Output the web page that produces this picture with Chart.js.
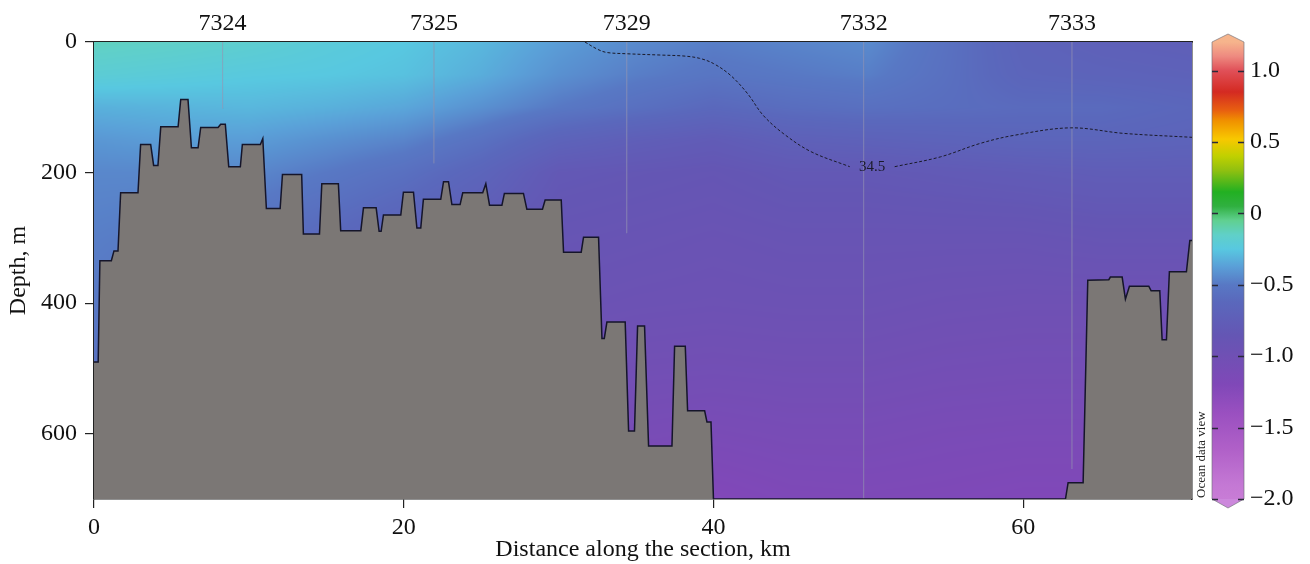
<!DOCTYPE html>
<html><head><meta charset="utf-8">
<script src="https://cdn.jsdelivr.net/npm/chart.js@4/dist/chart.umd.min.js"></script>
<style>html,body{margin:0;padding:0;background:#fff;}#wrap{width:1310px;height:564px;position:relative;}</style>
</head><body><div id="wrap"><canvas id="c" width="1310" height="564"></canvas></div>
<script>
// ---------- data ----------
const xMax = 70.9;
const depthMax = 700;
const xTicks = [0, 20, 40, 60];
const yTicks = [0, 200, 400, 600];
const xTitle = 'Distance along the section, km';
const yTitle = 'Depth, m';

const stationNames = ['7324', '7325', '7329', '7332', '7333'];
const stationKm = [8.3, 21.95, 34.4, 49.7, 63.15];
const stationBottom = [102, 186, 293, 700, 654];

const bathyKm = [0, 0.27, 0.38, 1.12, 1.29, 1.55, 1.72, 2.84, 3.01, 3.66, 3.85, 4.13, 4.31, 5.43, 5.6, 6.07, 6.29, 6.72, 6.89, 8.01,
  8.18, 8.48, 8.70, 9.45, 9.58, 10.74, 10.9, 11.13, 12.02, 12.17, 13.41, 13.52, 14.56, 14.71, 15.78, 15.93, 17.23, 17.4, 18.22, 18.41,
  18.54, 18.69, 19.81, 19.98, 20.63, 20.85, 21.1, 21.27, 22.39, 22.57, 22.89, 23.11, 23.64, 23.81, 25.1, 25.3, 25.54, 26.34, 26.5, 27.73,
  27.95, 28.96, 29.13, 30.17, 30.32, 31.46, 31.61, 32.58, 32.8, 32.95, 33.12, 34.3, 34.52, 34.9, 35.1, 35.55, 35.81, 37.32, 37.49, 38.18,
  38.33, 39.43, 39.58, 39.84, 40.0, 62.73, 62.9, 63.87, 64.17, 65.53, 65.63, 66.39, 66.6, 66.86, 68.11, 68.26, 68.82, 68.97, 69.25, 69.44,
  70.54, 70.76, 70.9];
const bathyDepth = [490, 490, 335, 335, 320, 320, 231, 231, 157, 157, 189, 189, 130, 130, 88, 88, 162, 162, 131, 131,
  126, 126, 191, 191, 157, 157, 148, 255, 255, 203, 203, 294, 294, 217, 217, 289, 289, 254, 254, 290,
  290, 265, 265, 230, 230, 285, 285, 241, 241, 214, 214, 249, 249, 231, 231, 217, 250, 250, 232, 232,
  256, 256, 242, 242, 322, 322, 299, 299, 454, 454, 429, 429, 596, 596, 435, 435, 619, 619, 466, 466,
  565, 565, 582, 582, 700, 700, 675, 675, 365, 364, 360, 360, 394, 374, 374, 381, 381, 456, 456, 352,
  352, 304, 304];

// salinity 34.5 isoline (null = gap for the label)
const contourKm = [31.7, 32.5, 33.1, 34.4, 36.6, 38.1, 39.1, 40.0, 41.1, 42.2, 43.2, 44.5, 46.3, 48.8, null, 51.7, 54.65, 57.2, 59.4, 63.05, 66.5, 70.9];
const contourDepth = [0, 11, 16, 18, 20, 21.5, 25, 33, 51, 79, 112, 140, 168, 191, null, 191, 176, 155.5, 143, 131.5, 140, 146];
const contourLabel = '34.5';
const contourLabelKm = 50.25;
const contourLabelDepth = 192;

// temperature field (°C), rows by depth
const fieldKm = [0, 5, 10, 15, 20, 25, 30, 35, 40, 45, 50, 55, 60, 65, 71];
const fieldDepth = [0, 50, 100, 150, 200, 300, 400, 500, 600, 700];
const t0   = [-0.13, -0.15, -0.18, -0.22, -0.25, -0.30, -0.38, -0.44, -0.48, -0.46, -0.44, -0.55, -0.68, -0.72, -0.74];
const t50  = [-0.20, -0.22, -0.24, -0.25, -0.27, -0.33, -0.42, -0.48, -0.52, -0.50, -0.48, -0.56, -0.66, -0.68, -0.70];
const t100 = [-0.32, -0.31, -0.30, -0.32, -0.35, -0.42, -0.50, -0.56, -0.62, -0.58, -0.56, -0.58, -0.60, -0.60, -0.64];
const t150 = [-0.40, -0.38, -0.38, -0.42, -0.46, -0.55, -0.68, -0.74, -0.78, -0.72, -0.70, -0.68, -0.66, -0.66, -0.68];
const t200 = [-0.45, -0.45, -0.45, -0.50, -0.56, -0.66, -0.82, -0.84, -0.86, -0.82, -0.82, -0.80, -0.78, -0.76, -0.76];
const t300 = [-0.48, -0.50, -0.55, -0.62, -0.70, -0.80, -0.88, -0.90, -0.92, -0.90, -0.90, -0.90, -0.90, -0.88, -0.88];
const t400 = [-0.50, -0.55, -0.62, -0.70, -0.78, -0.88, -0.93, -0.95, -0.96, -0.95, -0.95, -0.97, -0.98, -0.98, -0.98];
const t500 = [-0.55, -0.60, -0.70, -0.80, -0.88, -0.95, -1.00, -1.02, -1.03, -1.02, -1.02, -1.04, -1.05, -1.05, -1.05];
const t600 = [-0.60, -0.70, -0.80, -0.90, -0.98, -1.05, -1.08, -1.10, -1.12, -1.10, -1.10, -1.12, -1.13, -1.13, -1.13];
const t700 = [-0.65, -0.75, -0.85, -0.95, -1.05, -1.12, -1.16, -1.20, -1.22, -1.18, -1.17, -1.18, -1.20, -1.20, -1.20];
const fieldRows = [t0, t50, t100, t150, t200, t300, t400, t500, t600, t700];

// colour scale
const cbMin = -2.0, cbMax = 1.2;
const cbTicks = [-2.0, -1.5, -1.0, -0.5, 0, 0.5, 1.0];
const cmapValues = [-2.0, -1.9, -1.65, -1.4, -1.2, -1.0, -0.85, -0.62, -0.5, -0.37, -0.25, -0.15, -0.05, 0.05, 0.15, 0.3, 0.4, 0.52, 0.65, 0.72, 0.85, 1.0, 1.1, 1.2];
const cmapColors = ['#c87cd6', '#c478d4', '#b060c8', '#9a50c0', '#8048b8', '#7050b4', '#6456b4', '#5a68bc', '#5878c4', '#5aa0d8', '#58c8e0', '#60d0c8', '#60d090', '#30b040', '#22b022', '#90c010', '#c0d000', '#f8c800', '#f09000', '#e86010', '#d42a22', '#e05058', '#ee8a80', '#f6b48c'];

// ---------- helpers ----------
const SERIF = "'Liberation Serif', 'DejaVu Serif', serif";
const hex = h => [parseInt(h.slice(1,3),16), parseInt(h.slice(3,5),16), parseInt(h.slice(5,7),16)];
const cmapRgb = cmapColors.map(hex);
function colorFor(v) {
  if (v <= cmapValues[0]) return cmapRgb[0];
  const n = cmapValues.length;
  if (v >= cmapValues[n-1]) return cmapRgb[n-1];
  let i = 0; while (v > cmapValues[i+1]) i++;
  const t = (v - cmapValues[i]) / (cmapValues[i+1] - cmapValues[i]);
  const a = cmapRgb[i], b = cmapRgb[i+1];
  return [a[0]+(b[0]-a[0])*t, a[1]+(b[1]-a[1])*t, a[2]+(b[2]-a[2])*t];
}
function seg(arr, v) {
  if (v <= arr[0]) return [0, 0];
  const n = arr.length;
  if (v >= arr[n-1]) return [n-2, 1];
  let i = 0; while (v > arr[i+1]) i++;
  return [i, (v - arr[i]) / (arr[i+1] - arr[i])];
}
function fieldAt(k, d) {
  const [i, tx] = seg(fieldKm, k);
  const [j, ty] = seg(fieldDepth, d);
  const a = fieldRows[j][i], b = fieldRows[j][i+1], c = fieldRows[j+1][i], e = fieldRows[j+1][i+1];
  return (a*(1-tx) + b*tx)*(1-ty) + (c*(1-tx) + e*tx)*ty;
}

// ---------- plugins ----------
const fieldPlugin = {
  id: 'field',
  beforeDatasetsDraw(chart) {
    const {ctx, chartArea: a, scales: {x, y}} = chart;
    const L = Math.round(a.left), T = Math.round(a.top);
    const w = Math.round(a.right) - L, h = Math.round(a.bottom) - T;
    const img = ctx.createImageData(w, h);
    const ks = []; for (let px = 0; px < w; px++) ks.push(x.getValueForPixel(L + px + 0.5));
    for (let py = 0; py < h; py++) {
      const d = y.getValueForPixel(T + py + 0.5);
      for (let px = 0; px < w; px++) {
        const c = colorFor(fieldAt(ks[px], d));
        const o = (py*w + px)*4;
        img.data[o] = c[0]; img.data[o+1] = c[1]; img.data[o+2] = c[2]; img.data[o+3] = 255;
      }
    }
    ctx.putImageData(img, L, T);
  },
  afterDatasetsDraw(chart) {
    const {ctx, scales: {x, y}} = chart;
    ctx.save();
    ctx.font = '15px ' + SERIF;
    ctx.fillStyle = '#1a1a2a';
    ctx.textAlign = 'center'; ctx.textBaseline = 'middle';
    ctx.fillText(contourLabel, x.getPixelForValue(contourLabelKm), y.getPixelForValue(contourLabelDepth));
    ctx.restore();
  }
};

const colorbarPlugin = {
  id: 'colorbar',
  afterDraw(chart) {
    const {ctx} = chart;
    const cb = chart.scales.cb;
    const x0 = cb.left + 20, x1 = cb.left + 52, xm = (x0 + x1) / 2;
    const yTop = cb.getPixelForValue(cbMax), yBot = cb.getPixelForValue(cbMin);
    ctx.save();
    const g = ctx.createLinearGradient(0, yBot, 0, yTop);
    cmapValues.forEach((v, i) => g.addColorStop((v - cbMin) / (cbMax - cbMin), cmapColors[i]));
    ctx.fillStyle = g;
    ctx.fillRect(x0, yTop, x1 - x0, yBot - yTop);
    // arrows
    ctx.beginPath(); ctx.moveTo(x0, yTop); ctx.lineTo(xm, yTop - 8); ctx.lineTo(x1, yTop); ctx.closePath();
    ctx.fillStyle = cmapColors[cmapColors.length - 1]; ctx.fill();
    ctx.beginPath(); ctx.moveTo(x0, yBot); ctx.lineTo(xm, yBot + 9); ctx.lineTo(x1, yBot); ctx.closePath();
    ctx.fillStyle = '#cc88dc'; ctx.fill();
    // outline
    ctx.beginPath();
    ctx.moveTo(x0, yTop); ctx.lineTo(xm, yTop - 8); ctx.lineTo(x1, yTop); ctx.lineTo(x1, yBot);
    ctx.lineTo(xm, yBot + 9); ctx.lineTo(x0, yBot); ctx.closePath();
    ctx.strokeStyle = 'rgba(110,110,120,0.8)'; ctx.lineWidth = 0.8; ctx.stroke();
    // tick marks
    ctx.strokeStyle = '#2a2a3a'; ctx.lineWidth = 1.3;
    cbTicks.forEach(v => {
      const yy = Math.round(cb.getPixelForValue(v)) + 0.5;
      ctx.beginPath(); ctx.moveTo(x0, yy); ctx.lineTo(x0 + 6, yy); ctx.moveTo(x1 - 6, yy); ctx.lineTo(x1, yy); ctx.stroke();
    });
    // watermark
    ctx.translate(cb.left + 10, yBot - 1);
    ctx.rotate(-Math.PI / 2);
    ctx.font = '13px ' + SERIF; ctx.fillStyle = '#222';
    ctx.textAlign = 'left'; ctx.textBaseline = 'middle';
    ctx.fillText('Ocean data view', 0, 0);
    ctx.restore();
  }
};

// ---------- datasets ----------
const bathyData = bathyKm.map((k, i) => ({x: k, y: bathyDepth[i]}));
const contourData = contourKm.map((k, i) => (k === null ? {x: null, y: null} : {x: k, y: contourDepth[i]}));
const stationSets = stationKm.map((k, i) => ({
  type: 'line', data: [{x: k, y: 0}, {x: k, y: stationBottom[i]}],
  borderColor: 'rgba(150,150,180,0.28)', borderWidth: 1, pointRadius: 0, fill: false, order: 3
}));

const tickFont = {family: SERIF, size: 24};
const fmtCb = v => (v === 0 ? '0' : v.toFixed(1).replace('-', '\u2212'));

new Chart(document.getElementById('c'), {
  type: 'line',
  data: {
    datasets: [
      {data: bathyData, borderColor: '#15152a', borderWidth: 1.5, backgroundColor: '#7b7775',
       fill: {value: depthMax}, pointRadius: 0, tension: 0, order: 0},
      {data: contourData, borderColor: '#1a1a2a', borderWidth: 1, borderDash: [3, 2],
       fill: false, pointRadius: 0, tension: 0.35, spanGaps: false, order: 1},
      ...stationSets
    ]
  },
  options: {
    responsive: false, animation: false, devicePixelRatio: 1,
    layout: {padding: 0},
    plugins: {legend: {display: false}, tooltip: {enabled: false}},
    scales: {
      x: {
        type: 'linear', position: 'bottom', min: 0, max: xMax,
        afterBuildTicks: s => { s.ticks = xTicks.map(v => ({value: v})); },
        afterFit: s => { s.height = 65; s.paddingLeft = 0; s.paddingRight = 0; },
        grid: {drawOnChartArea: false, drawTicks: true, tickLength: 9, color: '#222', lineWidth: 1.2},
        border: {display: true, color: '#222', width: 1.5},
        ticks: {font: tickFont, color: '#111', padding: 5, maxRotation: 0, autoSkip: false},
        title: {display: true, text: xTitle, font: {family: SERIF, size: 24, lineHeight: 1.2}, color: '#111', padding: 0}
      },
      xTop: {
        type: 'linear', position: 'top', min: 0, max: xMax,
        afterBuildTicks: s => { s.ticks = stationKm.map(v => ({value: v})); },
        afterFit: s => { s.height = 42; s.paddingLeft = 0; s.paddingRight = 0; },
        grid: {drawOnChartArea: false, drawTicks: false},
        border: {display: true, color: '#222', width: 1.5},
        ticks: {font: tickFont, color: '#111', padding: 4, maxRotation: 0, autoSkip: false,
                callback: (v, i) => stationNames[i]}
      },
      y: {
        type: 'linear', position: 'left', reverse: true, min: 0, max: depthMax,
        afterBuildTicks: s => { s.ticks = yTicks.map(v => ({value: v})); },
        afterFit: s => { s.width = 94; s.paddingTop = 0; s.paddingBottom = 0; },
        grid: {drawOnChartArea: false, drawTicks: true, tickLength: 9, color: '#222', lineWidth: 1.2},
        border: {display: true, color: '#222', width: 1.5},
        ticks: {font: tickFont, color: '#111', padding: 8, autoSkip: false},
        title: {display: true, text: yTitle, font: {family: SERIF, size: 24, lineHeight: 1.6}, color: '#111', padding: 0}
      },
      cb: {
        type: 'linear', position: 'right', min: cbMin, max: cbMax,
        afterBuildTicks: s => { s.ticks = cbTicks.map(v => ({value: v})); },
        afterFit: s => { s.width = 118; s.paddingTop = 0; s.paddingBottom = 0; },
        grid: {drawOnChartArea: false, drawTicks: false},
        border: {display: true, color: '#222', width: 1.5},
        ticks: {font: tickFont, color: '#111', padding: 58, autoSkip: false, callback: v => fmtCb(v)}
      }
    }
  },
  plugins: [fieldPlugin, colorbarPlugin]
});
</script></body></html>
